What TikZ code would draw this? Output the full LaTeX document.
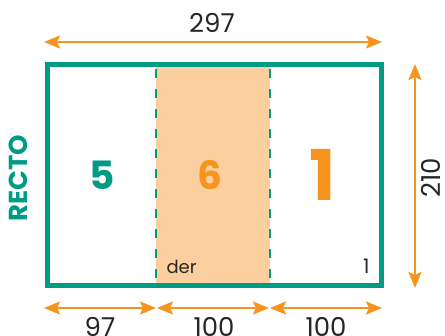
\documentclass[tikz,border=0pt]{standalone}
\usepackage{fontspec}
\setmainfont{Poppins}
\usetikzlibrary{arrows.meta,positioning}
\definecolor{vert}{RGB}{0,155,133}
\definecolor{orangeA}{RGB}{247,148,29}
\definecolor{orangeclair}{RGB}{251,207,158}

\begin{document}
\begin{tikzpicture}[x=1pt,y=-1pt,
  pointe/.tip={Stealth[length=16pt,width=13pt,inset=3pt]},
  cote/.style={orangeA, line width=2pt, {pointe}-{pointe}},
  cotetexte/.style={font=\fontsize{26}{26}\selectfont, text=black!85},
  chiffre/.style={font=\fontsize{39}{39}\selectfont\bfseries}]
\useasboundingbox (0,0) rectangle (445,336);

% la feuille
\fill[orangeclair] (156,64.5) rectangle (270,285.5);
\draw[vert, line width=5pt] (47,64.5) rectangle (381,285.5);
\foreach \x in {156,270}
   \draw[vert, line width=2pt, dash pattern=on 9pt off 11pt] (\x,69) -- (\x,283);

% les pages
\node[chiffre, text=vert] (p5) at (102,175) {5};
\node[chiffre, text=orangeA] (p6) at (210,175) {6};
\node[font=\fontsize{70}{70}\selectfont\bfseries, text=orangeA] (p1) at (323,175) {1};
\node[font=\fontsize{18}{18}\selectfont, text=black!85, anchor=south west] (der) at (163,277) {der};
\node[font=\fontsize{20}{20}\selectfont, text=black!85, anchor=south east] (un) at (373,277) {1};
\node[rotate=90, font=\fontsize{26}{26}\selectfont\bfseries, text=vert] (recto) at (18,178) {RECTO};

% les cotes
\coordinate (h1) at (44,42);
\coordinate (h2) at (382,42);
\draw[cote] (h1) -- (h2);
\node[cotetexte] (t297) at (212,23) {297};

\coordinate (v1) at (415,64);
\coordinate (v2) at (415,288);
\draw[cote] (v1) -- (v2);
\node[cotetexte, rotate=90, inner sep=1pt] (t210) at (431,178) {210};

\coordinate (b0) at (44,308);
\coordinate (b1) at (156,308);
\coordinate (b2) at (157,308);
\coordinate (b3) at (269,308);
\coordinate (b4) at (270,308);
\coordinate (b5) at (382,308);
\draw[cote] (b0) -- (b1);
\draw[cote] (b2) -- (b3);
\draw[cote] (b4) -- (b5);
\node[cotetexte] (t97) at (100,327) {97};
\node[cotetexte] (t100a) at (214,327) {100};
\node[cotetexte] (t100b) at (326,327) {100};
\end{tikzpicture}
\end{document}
